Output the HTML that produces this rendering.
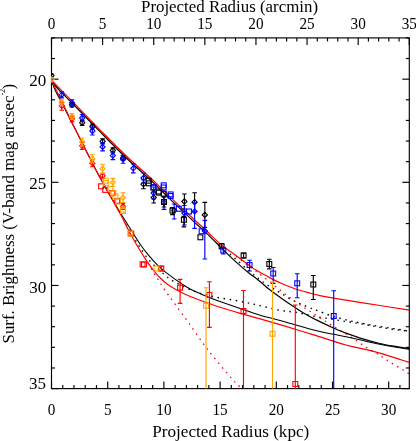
<!DOCTYPE html>
<html><head><meta charset="utf-8"><title>Surface brightness profile</title>
<style>
html,body{margin:0;padding:0;background:#fff;}
svg{display:block;font-family:"Liberation Serif",serif;fill:#000;}
</style></head>
<body>
<svg width="416" height="441" viewBox="0 0 416 441">
<defs><filter id="nf" x="0" y="0" width="416" height="441" filterUnits="userSpaceOnUse"><feOffset dx="0" dy="0"/></filter><clipPath id="clip"><rect x="51.2" y="37.6" width="358.40000000000003" height="351.50000000000006"/></clipPath></defs>
<rect width="416" height="441" fill="#fff"/>
<g stroke="#000" stroke-width="1.15"><line x1="51.50" y1="37.90" x2="51.50" y2="44.90"/><line x1="61.72" y1="37.90" x2="61.72" y2="41.40"/><line x1="71.95" y1="37.90" x2="71.95" y2="41.40"/><line x1="82.17" y1="37.90" x2="82.17" y2="41.40"/><line x1="92.39" y1="37.90" x2="92.39" y2="41.40"/><line x1="102.61" y1="37.90" x2="102.61" y2="44.90"/><line x1="112.84" y1="37.90" x2="112.84" y2="41.40"/><line x1="123.06" y1="37.90" x2="123.06" y2="41.40"/><line x1="133.28" y1="37.90" x2="133.28" y2="41.40"/><line x1="143.51" y1="37.90" x2="143.51" y2="41.40"/><line x1="153.73" y1="37.90" x2="153.73" y2="44.90"/><line x1="163.95" y1="37.90" x2="163.95" y2="41.40"/><line x1="174.17" y1="37.90" x2="174.17" y2="41.40"/><line x1="184.40" y1="37.90" x2="184.40" y2="41.40"/><line x1="194.62" y1="37.90" x2="194.62" y2="41.40"/><line x1="204.84" y1="37.90" x2="204.84" y2="44.90"/><line x1="215.07" y1="37.90" x2="215.07" y2="41.40"/><line x1="225.29" y1="37.90" x2="225.29" y2="41.40"/><line x1="235.51" y1="37.90" x2="235.51" y2="41.40"/><line x1="245.73" y1="37.90" x2="245.73" y2="41.40"/><line x1="255.96" y1="37.90" x2="255.96" y2="44.90"/><line x1="266.18" y1="37.90" x2="266.18" y2="41.40"/><line x1="276.40" y1="37.90" x2="276.40" y2="41.40"/><line x1="286.63" y1="37.90" x2="286.63" y2="41.40"/><line x1="296.85" y1="37.90" x2="296.85" y2="41.40"/><line x1="307.07" y1="37.90" x2="307.07" y2="44.90"/><line x1="317.29" y1="37.90" x2="317.29" y2="41.40"/><line x1="327.52" y1="37.90" x2="327.52" y2="41.40"/><line x1="337.74" y1="37.90" x2="337.74" y2="41.40"/><line x1="347.96" y1="37.90" x2="347.96" y2="41.40"/><line x1="358.19" y1="37.90" x2="358.19" y2="44.90"/><line x1="368.41" y1="37.90" x2="368.41" y2="41.40"/><line x1="378.63" y1="37.90" x2="378.63" y2="41.40"/><line x1="388.85" y1="37.90" x2="388.85" y2="41.40"/><line x1="399.08" y1="37.90" x2="399.08" y2="41.40"/><line x1="409.30" y1="37.90" x2="409.30" y2="44.90"/><line x1="51.50" y1="388.60" x2="51.50" y2="381.60"/><line x1="62.74" y1="388.60" x2="62.74" y2="385.10"/><line x1="73.98" y1="388.60" x2="73.98" y2="385.10"/><line x1="85.22" y1="388.60" x2="85.22" y2="385.10"/><line x1="96.46" y1="388.60" x2="96.46" y2="385.10"/><line x1="107.70" y1="388.60" x2="107.70" y2="381.60"/><line x1="118.94" y1="388.60" x2="118.94" y2="385.10"/><line x1="130.18" y1="388.60" x2="130.18" y2="385.10"/><line x1="141.42" y1="388.60" x2="141.42" y2="385.10"/><line x1="152.66" y1="388.60" x2="152.66" y2="385.10"/><line x1="163.90" y1="388.60" x2="163.90" y2="381.60"/><line x1="175.14" y1="388.60" x2="175.14" y2="385.10"/><line x1="186.38" y1="388.60" x2="186.38" y2="385.10"/><line x1="197.62" y1="388.60" x2="197.62" y2="385.10"/><line x1="208.86" y1="388.60" x2="208.86" y2="385.10"/><line x1="220.10" y1="388.60" x2="220.10" y2="381.60"/><line x1="231.34" y1="388.60" x2="231.34" y2="385.10"/><line x1="242.58" y1="388.60" x2="242.58" y2="385.10"/><line x1="253.82" y1="388.60" x2="253.82" y2="385.10"/><line x1="265.06" y1="388.60" x2="265.06" y2="385.10"/><line x1="276.30" y1="388.60" x2="276.30" y2="381.60"/><line x1="287.54" y1="388.60" x2="287.54" y2="385.10"/><line x1="298.78" y1="388.60" x2="298.78" y2="385.10"/><line x1="310.02" y1="388.60" x2="310.02" y2="385.10"/><line x1="321.26" y1="388.60" x2="321.26" y2="385.10"/><line x1="332.50" y1="388.60" x2="332.50" y2="381.60"/><line x1="343.74" y1="388.60" x2="343.74" y2="385.10"/><line x1="354.98" y1="388.60" x2="354.98" y2="385.10"/><line x1="366.22" y1="388.60" x2="366.22" y2="385.10"/><line x1="377.46" y1="388.60" x2="377.46" y2="385.10"/><line x1="388.70" y1="388.60" x2="388.70" y2="381.60"/><line x1="399.94" y1="388.60" x2="399.94" y2="385.10"/><line x1="51.50" y1="37.90" x2="55.00" y2="37.90"/><line x1="409.30" y1="37.90" x2="405.80" y2="37.90"/><line x1="51.50" y1="58.53" x2="55.00" y2="58.53"/><line x1="409.30" y1="58.53" x2="405.80" y2="58.53"/><line x1="51.50" y1="79.16" x2="58.50" y2="79.16"/><line x1="409.30" y1="79.16" x2="402.30" y2="79.16"/><line x1="51.50" y1="99.79" x2="55.00" y2="99.79"/><line x1="409.30" y1="99.79" x2="405.80" y2="99.79"/><line x1="51.50" y1="120.42" x2="55.00" y2="120.42"/><line x1="409.30" y1="120.42" x2="405.80" y2="120.42"/><line x1="51.50" y1="141.05" x2="55.00" y2="141.05"/><line x1="409.30" y1="141.05" x2="405.80" y2="141.05"/><line x1="51.50" y1="161.68" x2="55.00" y2="161.68"/><line x1="409.30" y1="161.68" x2="405.80" y2="161.68"/><line x1="51.50" y1="182.31" x2="58.50" y2="182.31"/><line x1="409.30" y1="182.31" x2="402.30" y2="182.31"/><line x1="51.50" y1="202.94" x2="55.00" y2="202.94"/><line x1="409.30" y1="202.94" x2="405.80" y2="202.94"/><line x1="51.50" y1="223.57" x2="55.00" y2="223.57"/><line x1="409.30" y1="223.57" x2="405.80" y2="223.57"/><line x1="51.50" y1="244.20" x2="55.00" y2="244.20"/><line x1="409.30" y1="244.20" x2="405.80" y2="244.20"/><line x1="51.50" y1="264.83" x2="55.00" y2="264.83"/><line x1="409.30" y1="264.83" x2="405.80" y2="264.83"/><line x1="51.50" y1="285.46" x2="58.50" y2="285.46"/><line x1="409.30" y1="285.46" x2="402.30" y2="285.46"/><line x1="51.50" y1="306.09" x2="55.00" y2="306.09"/><line x1="409.30" y1="306.09" x2="405.80" y2="306.09"/><line x1="51.50" y1="326.72" x2="55.00" y2="326.72"/><line x1="409.30" y1="326.72" x2="405.80" y2="326.72"/><line x1="51.50" y1="347.35" x2="55.00" y2="347.35"/><line x1="409.30" y1="347.35" x2="405.80" y2="347.35"/><line x1="51.50" y1="367.98" x2="55.00" y2="367.98"/><line x1="409.30" y1="367.98" x2="405.80" y2="367.98"/><line x1="51.50" y1="388.61" x2="58.50" y2="388.61"/><line x1="409.30" y1="388.61" x2="402.30" y2="388.61"/><rect x="51.5" y="37.9" width="357.8" height="350.70000000000005" fill="none"/></g>
<g clip-path="url(#clip)" fill="none">
<path d="M230.00 254.00 C234.28 257.75 249.03 271.07 255.70 276.50 C262.37 281.93 265.95 283.93 270.00 286.60 C274.05 289.27 276.57 290.40 280.00 292.50 C283.43 294.60 287.06 297.25 290.60 299.20 C294.14 301.15 297.70 302.63 301.25 304.20 C304.80 305.77 309.11 307.50 311.90 308.60 C314.69 309.70 314.90 309.65 318.00 310.80 C321.10 311.95 325.62 313.93 330.50 315.50 C335.38 317.07 341.92 318.88 347.30 320.20 C352.68 321.52 357.40 322.35 362.80 323.40 C368.20 324.45 372.68 325.33 379.70 326.50 C386.72 327.67 399.92 329.65 404.90 330.40 C409.88 331.15 408.82 330.90 409.60 331.00" stroke="#000000" stroke-width="1.4" stroke-dasharray="1.5 4.6"/>
<path d="M127.00 224.00 C128.08 226.15 131.28 232.93 133.50 236.90 C135.72 240.87 137.77 244.02 140.30 247.80 C142.83 251.58 145.90 256.23 148.70 259.60 C151.50 262.97 154.30 265.33 157.10 268.00 C159.90 270.67 162.70 273.35 165.50 275.60 C168.30 277.85 169.47 279.02 173.90 281.50 C178.33 283.98 185.60 288.00 192.10 290.50 C198.60 293.00 204.92 294.70 212.90 296.50 C220.88 298.30 232.15 299.78 240.00 301.30 C247.85 302.82 253.33 304.10 260.00 305.60 C266.67 307.10 273.87 309.15 280.00 310.30 C286.13 311.45 291.18 311.52 296.80 312.50 C302.42 313.48 308.08 315.12 313.70 316.20 C319.32 317.28 324.90 318.08 330.50 319.00 C336.10 319.92 341.92 320.85 347.30 321.70 C352.68 322.55 357.40 323.17 362.80 324.10 C368.20 325.03 372.68 326.18 379.70 327.30 C386.72 328.42 399.92 330.12 404.90 330.80 C409.88 331.48 408.82 331.30 409.60 331.40" stroke="#000000" stroke-width="1.4" stroke-dasharray="1.5 4.6"/>
<path d="M236.00 256.50 C239.28 258.92 248.37 265.42 255.70 271.00 C263.03 276.58 273.15 284.72 280.00 290.00 C286.85 295.28 291.18 298.75 296.80 302.70 C302.42 306.65 308.08 310.05 313.70 313.70 C319.32 317.35 324.90 321.10 330.50 324.60 C336.10 328.10 342.62 331.77 347.30 334.70 C351.98 337.63 355.03 339.83 358.60 342.20 C362.17 344.57 365.33 346.80 368.70 348.90 C372.07 351.00 376.27 353.25 378.80 354.80 C381.33 356.35 378.77 355.00 383.90 358.20 C389.03 361.40 405.32 371.37 409.60 374.00" stroke="#ff0000" stroke-width="1.3" stroke-dasharray="1.5 4.6"/>
<path d="M148.00 263.00 C148.95 264.67 151.90 270.07 153.70 273.00 C155.50 275.93 156.95 277.77 158.80 280.60 C160.65 283.43 160.60 284.03 164.80 290.00 C169.00 295.97 176.78 306.38 184.00 316.40 C191.22 326.42 200.08 339.67 208.10 350.10 C216.12 360.53 226.50 372.58 232.10 379.00 C237.70 385.42 240.10 387.00 241.70 388.60" stroke="#ff0000" stroke-width="1.3" stroke-dasharray="1.5 4.6"/>
<path d="M51.50 80.60 C52.08 82.13 53.58 86.63 55.00 89.80 C56.42 92.97 56.67 93.10 60.00 99.60 C63.33 106.10 68.83 116.72 75.00 128.80 C81.17 140.88 91.33 161.27 97.00 172.10 C102.67 182.93 104.88 186.65 109.00 193.80 C113.12 200.95 117.90 208.80 121.70 215.00 C125.50 221.20 128.70 226.08 131.80 231.00 C134.90 235.92 137.48 240.43 140.30 244.50 C143.12 248.57 145.90 252.03 148.70 255.40 C151.50 258.77 154.30 261.90 157.10 264.70 C159.90 267.50 161.30 268.93 165.50 272.20 C169.70 275.47 177.87 281.33 182.30 284.30 C186.73 287.27 187.82 287.90 192.10 290.00 C196.38 292.10 203.35 294.98 208.00 296.90 C212.65 298.82 214.67 299.57 220.00 301.50 C225.33 303.43 233.33 306.22 240.00 308.50 C246.67 310.78 253.33 313.22 260.00 315.20 C266.67 317.18 271.05 317.95 280.00 320.40 C288.95 322.85 302.70 327.17 313.70 329.90 C324.70 332.63 337.82 335.02 346.00 336.80 C354.18 338.58 357.18 339.37 362.80 340.60 C368.42 341.83 374.08 343.10 379.70 344.20 C385.32 345.30 391.52 346.37 396.50 347.20 C401.48 348.03 407.42 348.87 409.60 349.20" stroke="#000000" stroke-width="1.05"/>
<path d="M51.50 80.60 C52.08 81.40 53.58 83.68 55.00 85.40 C56.42 87.12 56.67 87.47 60.00 90.90 C63.33 94.33 68.33 99.17 75.00 105.97 C81.67 112.77 91.67 123.23 100.00 131.69 C108.33 140.15 116.12 148.22 125.00 156.72 C133.88 165.21 145.75 175.59 153.25 182.66 C160.75 189.73 162.88 192.32 170.00 199.14 C177.12 205.96 189.58 217.57 196.00 223.57 C202.42 229.57 203.75 230.56 208.50 235.13 C213.25 239.71 219.75 246.37 224.50 251.00 C229.25 255.63 232.83 259.15 237.00 262.90 C241.17 266.65 246.33 270.94 249.50 273.50 C252.67 276.06 253.58 276.33 256.00 278.25 C258.42 280.17 261.92 283.26 264.00 285.00 C266.08 286.74 265.67 286.53 268.50 288.70 C271.33 290.87 276.83 295.02 281.00 298.00 C285.17 300.98 289.75 304.10 293.50 306.60 C297.25 309.10 300.13 311.00 303.50 313.00 C306.87 315.00 308.63 316.07 313.70 318.60 C318.77 321.13 328.52 325.78 333.90 328.20 C339.28 330.62 341.18 331.32 346.00 333.10 C350.82 334.88 357.18 337.17 362.80 338.90 C368.42 340.63 374.08 342.22 379.70 343.50 C385.32 344.78 391.52 345.75 396.50 346.60 C401.48 347.45 407.42 348.27 409.60 348.60" stroke="#000000" stroke-width="1.2"/>
<path d="M51.50 80.50 C55.42 88.48 67.42 113.15 75.00 128.40 C82.58 143.65 91.33 161.07 97.00 172.00 C102.67 182.93 105.02 186.83 109.00 194.00 C112.98 201.17 117.65 208.97 120.90 215.00 C124.15 221.03 125.83 225.15 128.50 230.20 C131.17 235.25 134.10 240.53 136.90 245.30 C139.70 250.07 142.50 254.58 145.30 258.80 C148.10 263.02 150.90 267.10 153.70 270.60 C156.50 274.10 159.70 277.45 162.10 279.80 C164.50 282.15 165.12 282.72 168.10 284.70 C171.08 286.68 176.00 289.60 180.00 291.70 C184.00 293.80 187.43 295.40 192.10 297.30 C196.77 299.20 203.35 301.43 208.00 303.10 C212.65 304.77 214.67 305.60 220.00 307.30 C225.33 309.00 233.33 311.38 240.00 313.30 C246.67 315.22 253.33 316.92 260.00 318.80 C266.67 320.68 271.05 321.92 280.00 324.60 C288.95 327.28 302.70 331.50 313.70 334.90 C324.70 338.30 337.82 342.68 346.00 345.00 C354.18 347.32 357.18 347.45 362.80 348.80 C368.42 350.15 373.23 351.23 379.70 353.10 C386.17 354.97 396.62 358.42 401.60 360.00 C406.58 361.58 408.27 362.17 409.60 362.60" stroke="#ff0000" stroke-width="1.2"/>
<path d="M51.50 80.20 C55.42 84.20 66.92 95.93 75.00 104.20 C83.08 112.47 91.67 121.38 100.00 129.80 C108.33 138.22 116.12 146.25 125.00 154.70 C133.88 163.15 145.75 173.47 153.25 180.50 C160.75 187.53 162.88 190.12 170.00 196.90 C177.12 203.68 189.58 215.23 196.00 221.20 C202.42 227.17 204.33 228.78 208.50 232.70 C212.67 236.62 216.83 241.19 221.00 244.70 C225.17 248.21 229.00 250.47 233.50 253.75 C238.00 257.03 244.25 261.67 248.00 264.40 C251.75 267.12 252.58 268.00 256.00 270.10 C259.42 272.20 264.33 274.81 268.50 277.00 C272.67 279.19 276.83 281.38 281.00 283.25 C285.17 285.12 289.00 286.69 293.50 288.25 C298.00 289.81 303.58 291.38 308.00 292.60 C312.42 293.83 313.67 294.33 320.00 295.60 C326.33 296.87 336.00 298.55 346.00 300.20 C356.00 301.85 369.40 303.83 380.00 305.50 C390.60 307.17 404.67 309.42 409.60 310.20" stroke="#ff0000" stroke-width="1.2"/>
</g>
<g clip-path="url(#clip)">
<line x1="51.50" y1="74.10" x2="51.50" y2="77.10" stroke="#000000" stroke-width="1.15"/>
<line x1="49.20" y1="74.10" x2="53.80" y2="74.10" stroke="#000000" stroke-width="1.15"/>
<line x1="49.20" y1="77.10" x2="53.80" y2="77.10" stroke="#000000" stroke-width="1.15"/>
<path d="M48.90 75.60 L51.50 73.00 L54.10 75.60 L51.50 78.20 Z" fill="none" stroke="#000000" stroke-width="1.1"/>
<line x1="71.95" y1="102.80" x2="71.95" y2="106.80" stroke="#000000" stroke-width="1.15"/>
<line x1="69.65" y1="102.80" x2="74.25" y2="102.80" stroke="#000000" stroke-width="1.15"/>
<line x1="69.65" y1="106.80" x2="74.25" y2="106.80" stroke="#000000" stroke-width="1.15"/>
<path d="M69.35 104.80 L71.95 102.20 L74.55 104.80 L71.95 107.40 Z" fill="none" stroke="#000000" stroke-width="1.1"/>
<line x1="82.17" y1="120.30" x2="82.17" y2="125.30" stroke="#000000" stroke-width="1.15"/>
<line x1="79.87" y1="120.30" x2="84.47" y2="120.30" stroke="#000000" stroke-width="1.15"/>
<line x1="79.87" y1="125.30" x2="84.47" y2="125.30" stroke="#000000" stroke-width="1.15"/>
<path d="M79.57 122.80 L82.17 120.20 L84.77 122.80 L82.17 125.40 Z" fill="none" stroke="#000000" stroke-width="1.1"/>
<line x1="92.39" y1="124.00" x2="92.39" y2="129.00" stroke="#000000" stroke-width="1.15"/>
<line x1="90.09" y1="124.00" x2="94.69" y2="124.00" stroke="#000000" stroke-width="1.15"/>
<line x1="90.09" y1="129.00" x2="94.69" y2="129.00" stroke="#000000" stroke-width="1.15"/>
<path d="M89.79 126.50 L92.39 123.90 L94.99 126.50 L92.39 129.10 Z" fill="none" stroke="#000000" stroke-width="1.1"/>
<line x1="102.61" y1="138.80" x2="102.61" y2="143.80" stroke="#000000" stroke-width="1.15"/>
<line x1="100.31" y1="138.80" x2="104.91" y2="138.80" stroke="#000000" stroke-width="1.15"/>
<line x1="100.31" y1="143.80" x2="104.91" y2="143.80" stroke="#000000" stroke-width="1.15"/>
<path d="M100.01 141.30 L102.61 138.70 L105.21 141.30 L102.61 143.90 Z" fill="none" stroke="#000000" stroke-width="1.1"/>
<line x1="112.84" y1="147.80" x2="112.84" y2="152.80" stroke="#000000" stroke-width="1.15"/>
<line x1="110.54" y1="147.80" x2="115.14" y2="147.80" stroke="#000000" stroke-width="1.15"/>
<line x1="110.54" y1="152.80" x2="115.14" y2="152.80" stroke="#000000" stroke-width="1.15"/>
<path d="M110.24 150.30 L112.84 147.70 L115.44 150.30 L112.84 152.90 Z" fill="none" stroke="#000000" stroke-width="1.1"/>
<line x1="123.06" y1="155.50" x2="123.06" y2="160.50" stroke="#000000" stroke-width="1.15"/>
<line x1="120.76" y1="155.50" x2="125.36" y2="155.50" stroke="#000000" stroke-width="1.15"/>
<line x1="120.76" y1="160.50" x2="125.36" y2="160.50" stroke="#000000" stroke-width="1.15"/>
<path d="M120.46 158.00 L123.06 155.40 L125.66 158.00 L123.06 160.60 Z" fill="none" stroke="#000000" stroke-width="1.1"/>
<line x1="143.51" y1="179.70" x2="143.51" y2="188.70" stroke="#000000" stroke-width="1.15"/>
<line x1="141.21" y1="179.70" x2="145.81" y2="179.70" stroke="#000000" stroke-width="1.15"/>
<line x1="141.21" y1="188.70" x2="145.81" y2="188.70" stroke="#000000" stroke-width="1.15"/>
<path d="M140.91 184.20 L143.51 181.60 L146.11 184.20 L143.51 186.80 Z" fill="none" stroke="#000000" stroke-width="1.1"/>
<line x1="153.73" y1="192.00" x2="153.73" y2="203.00" stroke="#000000" stroke-width="1.15"/>
<line x1="151.43" y1="192.00" x2="156.03" y2="192.00" stroke="#000000" stroke-width="1.15"/>
<line x1="151.43" y1="203.00" x2="156.03" y2="203.00" stroke="#000000" stroke-width="1.15"/>
<path d="M151.13 197.50 L153.73 194.90 L156.33 197.50 L153.73 200.10 Z" fill="none" stroke="#000000" stroke-width="1.1"/>
<line x1="184.40" y1="194.00" x2="184.40" y2="209.00" stroke="#000000" stroke-width="1.15"/>
<line x1="182.10" y1="194.00" x2="186.70" y2="194.00" stroke="#000000" stroke-width="1.15"/>
<line x1="182.10" y1="209.00" x2="186.70" y2="209.00" stroke="#000000" stroke-width="1.15"/>
<path d="M181.80 201.50 L184.40 198.90 L187.00 201.50 L184.40 204.10 Z" fill="none" stroke="#000000" stroke-width="1.1"/>
<line x1="194.62" y1="192.70" x2="194.62" y2="211.70" stroke="#000000" stroke-width="1.15"/>
<line x1="192.32" y1="192.70" x2="196.92" y2="192.70" stroke="#000000" stroke-width="1.15"/>
<line x1="192.32" y1="211.70" x2="196.92" y2="211.70" stroke="#000000" stroke-width="1.15"/>
<path d="M192.02 202.20 L194.62 199.60 L197.22 202.20 L194.62 204.80 Z" fill="none" stroke="#000000" stroke-width="1.1"/>
<line x1="204.84" y1="202.40" x2="204.84" y2="227.40" stroke="#000000" stroke-width="1.15"/>
<line x1="202.54" y1="202.40" x2="207.14" y2="202.40" stroke="#000000" stroke-width="1.15"/>
<line x1="202.54" y1="227.40" x2="207.14" y2="227.40" stroke="#000000" stroke-width="1.15"/>
<path d="M202.24 214.90 L204.84 212.30 L207.44 214.90 L204.84 217.50 Z" fill="none" stroke="#000000" stroke-width="1.1"/>
<line x1="61.72" y1="91.80" x2="61.72" y2="97.80" stroke="#0000ff" stroke-width="1.15"/>
<line x1="59.42" y1="91.80" x2="64.02" y2="91.80" stroke="#0000ff" stroke-width="1.15"/>
<line x1="59.42" y1="97.80" x2="64.02" y2="97.80" stroke="#0000ff" stroke-width="1.15"/>
<path d="M59.12 94.80 L61.72 92.20 L64.32 94.80 L61.72 97.40 Z" fill="none" stroke="#0000ff" stroke-width="1.1"/>
<line x1="71.95" y1="99.80" x2="71.95" y2="105.80" stroke="#0000ff" stroke-width="1.15"/>
<line x1="69.65" y1="99.80" x2="74.25" y2="99.80" stroke="#0000ff" stroke-width="1.15"/>
<line x1="69.65" y1="105.80" x2="74.25" y2="105.80" stroke="#0000ff" stroke-width="1.15"/>
<path d="M69.35 102.80 L71.95 100.20 L74.55 102.80 L71.95 105.40 Z" fill="none" stroke="#0000ff" stroke-width="1.1"/>
<line x1="82.17" y1="114.50" x2="82.17" y2="121.50" stroke="#0000ff" stroke-width="1.15"/>
<line x1="79.87" y1="114.50" x2="84.47" y2="114.50" stroke="#0000ff" stroke-width="1.15"/>
<line x1="79.87" y1="121.50" x2="84.47" y2="121.50" stroke="#0000ff" stroke-width="1.15"/>
<path d="M79.57 118.00 L82.17 115.40 L84.77 118.00 L82.17 120.60 Z" fill="none" stroke="#0000ff" stroke-width="1.1"/>
<line x1="92.39" y1="127.00" x2="92.39" y2="135.00" stroke="#0000ff" stroke-width="1.15"/>
<line x1="90.09" y1="127.00" x2="94.69" y2="127.00" stroke="#0000ff" stroke-width="1.15"/>
<line x1="90.09" y1="135.00" x2="94.69" y2="135.00" stroke="#0000ff" stroke-width="1.15"/>
<path d="M89.79 131.00 L92.39 128.40 L94.99 131.00 L92.39 133.60 Z" fill="none" stroke="#0000ff" stroke-width="1.1"/>
<line x1="102.61" y1="142.90" x2="102.61" y2="150.90" stroke="#0000ff" stroke-width="1.15"/>
<line x1="100.31" y1="142.90" x2="104.91" y2="142.90" stroke="#0000ff" stroke-width="1.15"/>
<line x1="100.31" y1="150.90" x2="104.91" y2="150.90" stroke="#0000ff" stroke-width="1.15"/>
<path d="M100.01 146.90 L102.61 144.30 L105.21 146.90 L102.61 149.50 Z" fill="none" stroke="#0000ff" stroke-width="1.1"/>
<line x1="112.84" y1="151.60" x2="112.84" y2="159.60" stroke="#0000ff" stroke-width="1.15"/>
<line x1="110.54" y1="151.60" x2="115.14" y2="151.60" stroke="#0000ff" stroke-width="1.15"/>
<line x1="110.54" y1="159.60" x2="115.14" y2="159.60" stroke="#0000ff" stroke-width="1.15"/>
<path d="M110.24 155.60 L112.84 153.00 L115.44 155.60 L112.84 158.20 Z" fill="none" stroke="#0000ff" stroke-width="1.1"/>
<line x1="123.06" y1="155.20" x2="123.06" y2="163.20" stroke="#0000ff" stroke-width="1.15"/>
<line x1="120.76" y1="155.20" x2="125.36" y2="155.20" stroke="#0000ff" stroke-width="1.15"/>
<line x1="120.76" y1="163.20" x2="125.36" y2="163.20" stroke="#0000ff" stroke-width="1.15"/>
<path d="M120.46 159.20 L123.06 156.60 L125.66 159.20 L123.06 161.80 Z" fill="none" stroke="#0000ff" stroke-width="1.1"/>
<line x1="133.28" y1="163.80" x2="133.28" y2="172.80" stroke="#0000ff" stroke-width="1.15"/>
<line x1="130.98" y1="163.80" x2="135.58" y2="163.80" stroke="#0000ff" stroke-width="1.15"/>
<line x1="130.98" y1="172.80" x2="135.58" y2="172.80" stroke="#0000ff" stroke-width="1.15"/>
<path d="M130.68 168.30 L133.28 165.70 L135.88 168.30 L133.28 170.90 Z" fill="none" stroke="#0000ff" stroke-width="1.1"/>
<line x1="143.51" y1="173.00" x2="143.51" y2="183.00" stroke="#0000ff" stroke-width="1.15"/>
<line x1="141.21" y1="173.00" x2="145.81" y2="173.00" stroke="#0000ff" stroke-width="1.15"/>
<line x1="141.21" y1="183.00" x2="145.81" y2="183.00" stroke="#0000ff" stroke-width="1.15"/>
<path d="M140.91 178.00 L143.51 175.40 L146.11 178.00 L143.51 180.60 Z" fill="none" stroke="#0000ff" stroke-width="1.1"/>
<line x1="153.73" y1="187.00" x2="153.73" y2="199.00" stroke="#0000ff" stroke-width="1.15"/>
<line x1="151.43" y1="187.00" x2="156.03" y2="187.00" stroke="#0000ff" stroke-width="1.15"/>
<line x1="151.43" y1="199.00" x2="156.03" y2="199.00" stroke="#0000ff" stroke-width="1.15"/>
<path d="M151.13 193.00 L153.73 190.40 L156.33 193.00 L153.73 195.60 Z" fill="none" stroke="#0000ff" stroke-width="1.1"/>
<line x1="163.95" y1="196.80" x2="163.95" y2="209.30" stroke="#0000ff" stroke-width="1.15"/>
<line x1="161.65" y1="196.80" x2="166.25" y2="196.80" stroke="#0000ff" stroke-width="1.15"/>
<line x1="161.65" y1="209.30" x2="166.25" y2="209.30" stroke="#0000ff" stroke-width="1.15"/>
<path d="M161.35 202.30 L163.95 199.70 L166.55 202.30 L163.95 204.90 Z" fill="none" stroke="#0000ff" stroke-width="1.1"/>
<line x1="174.17" y1="204.00" x2="174.17" y2="219.00" stroke="#0000ff" stroke-width="1.15"/>
<line x1="171.87" y1="204.00" x2="176.47" y2="204.00" stroke="#0000ff" stroke-width="1.15"/>
<line x1="171.87" y1="219.00" x2="176.47" y2="219.00" stroke="#0000ff" stroke-width="1.15"/>
<path d="M171.57 210.50 L174.17 207.90 L176.77 210.50 L174.17 213.10 Z" fill="none" stroke="#0000ff" stroke-width="1.1"/>
<line x1="184.40" y1="205.50" x2="184.40" y2="225.00" stroke="#0000ff" stroke-width="1.15"/>
<line x1="182.10" y1="205.50" x2="186.70" y2="205.50" stroke="#0000ff" stroke-width="1.15"/>
<line x1="182.10" y1="225.00" x2="186.70" y2="225.00" stroke="#0000ff" stroke-width="1.15"/>
<path d="M181.80 213.00 L184.40 210.40 L187.00 213.00 L184.40 215.60 Z" fill="none" stroke="#0000ff" stroke-width="1.1"/>
<line x1="194.62" y1="202.90" x2="194.62" y2="228.40" stroke="#0000ff" stroke-width="1.15"/>
<line x1="192.32" y1="202.90" x2="196.92" y2="202.90" stroke="#0000ff" stroke-width="1.15"/>
<line x1="192.32" y1="228.40" x2="196.92" y2="228.40" stroke="#0000ff" stroke-width="1.15"/>
<path d="M192.02 211.40 L194.62 208.80 L197.22 211.40 L194.62 214.00 Z" fill="none" stroke="#0000ff" stroke-width="1.1"/>
<line x1="204.84" y1="220.40" x2="204.84" y2="259.00" stroke="#0000ff" stroke-width="1.15"/>
<line x1="202.54" y1="220.40" x2="207.14" y2="220.40" stroke="#0000ff" stroke-width="1.15"/>
<line x1="202.54" y1="259.00" x2="207.14" y2="259.00" stroke="#0000ff" stroke-width="1.15"/>
<path d="M202.24 231.00 L204.84 228.40 L207.44 231.00 L204.84 233.60 Z" fill="none" stroke="#0000ff" stroke-width="1.1"/>
<line x1="61.72" y1="102.80" x2="61.72" y2="110.20" stroke="#ff0000" stroke-width="1.15"/>
<line x1="59.42" y1="102.80" x2="64.02" y2="102.80" stroke="#ff0000" stroke-width="1.15"/>
<line x1="59.42" y1="110.20" x2="64.02" y2="110.20" stroke="#ff0000" stroke-width="1.15"/>
<path d="M59.12 105.80 L61.72 103.20 L64.32 105.80 L61.72 108.40 Z" fill="none" stroke="#ff0000" stroke-width="1.1"/>
<line x1="71.95" y1="115.80" x2="71.95" y2="121.80" stroke="#ff0000" stroke-width="1.15"/>
<line x1="69.65" y1="115.80" x2="74.25" y2="115.80" stroke="#ff0000" stroke-width="1.15"/>
<line x1="69.65" y1="121.80" x2="74.25" y2="121.80" stroke="#ff0000" stroke-width="1.15"/>
<path d="M69.35 118.80 L71.95 116.20 L74.55 118.80 L71.95 121.40 Z" fill="none" stroke="#ff0000" stroke-width="1.1"/>
<line x1="82.17" y1="142.30" x2="82.17" y2="149.30" stroke="#ff0000" stroke-width="1.15"/>
<line x1="79.87" y1="142.30" x2="84.47" y2="142.30" stroke="#ff0000" stroke-width="1.15"/>
<line x1="79.87" y1="149.30" x2="84.47" y2="149.30" stroke="#ff0000" stroke-width="1.15"/>
<path d="M79.57 145.80 L82.17 143.20 L84.77 145.80 L82.17 148.40 Z" fill="none" stroke="#ff0000" stroke-width="1.1"/>
<line x1="92.39" y1="159.70" x2="92.39" y2="166.70" stroke="#ff0000" stroke-width="1.15"/>
<line x1="90.09" y1="159.70" x2="94.69" y2="159.70" stroke="#ff0000" stroke-width="1.15"/>
<line x1="90.09" y1="166.70" x2="94.69" y2="166.70" stroke="#ff0000" stroke-width="1.15"/>
<path d="M89.79 163.20 L92.39 160.60 L94.99 163.20 L92.39 165.80 Z" fill="none" stroke="#ff0000" stroke-width="1.1"/>
<line x1="102.61" y1="173.20" x2="102.61" y2="178.20" stroke="#ff0000" stroke-width="1.15"/>
<line x1="100.31" y1="173.20" x2="104.91" y2="173.20" stroke="#ff0000" stroke-width="1.15"/>
<line x1="100.31" y1="178.20" x2="104.91" y2="178.20" stroke="#ff0000" stroke-width="1.15"/>
<path d="M100.01 175.70 L102.61 173.10 L105.21 175.70 L102.61 178.30 Z" fill="none" stroke="#ff0000" stroke-width="1.1"/>
<line x1="123.06" y1="203.50" x2="123.06" y2="209.50" stroke="#ff0000" stroke-width="1.15"/>
<line x1="120.76" y1="203.50" x2="125.36" y2="203.50" stroke="#ff0000" stroke-width="1.15"/>
<line x1="120.76" y1="209.50" x2="125.36" y2="209.50" stroke="#ff0000" stroke-width="1.15"/>
<path d="M120.46 206.50 L123.06 203.90 L125.66 206.50 L123.06 209.10 Z" fill="none" stroke="#ff0000" stroke-width="1.1"/>
<line x1="51.50" y1="77.50" x2="51.50" y2="81.50" stroke="#ffa500" stroke-width="1.15"/>
<line x1="49.20" y1="77.50" x2="53.80" y2="77.50" stroke="#ffa500" stroke-width="1.15"/>
<line x1="49.20" y1="81.50" x2="53.80" y2="81.50" stroke="#ffa500" stroke-width="1.15"/>
<path d="M48.90 79.50 L51.50 76.90 L54.10 79.50 L51.50 82.10 Z" fill="none" stroke="#ffa500" stroke-width="1.1"/>
<line x1="61.72" y1="99.20" x2="61.72" y2="105.20" stroke="#ffa500" stroke-width="1.15"/>
<line x1="59.42" y1="99.20" x2="64.02" y2="99.20" stroke="#ffa500" stroke-width="1.15"/>
<line x1="59.42" y1="105.20" x2="64.02" y2="105.20" stroke="#ffa500" stroke-width="1.15"/>
<path d="M59.12 102.20 L61.72 99.60 L64.32 102.20 L61.72 104.80 Z" fill="none" stroke="#ffa500" stroke-width="1.1"/>
<line x1="71.95" y1="113.50" x2="71.95" y2="119.50" stroke="#ffa500" stroke-width="1.15"/>
<line x1="69.65" y1="113.50" x2="74.25" y2="113.50" stroke="#ffa500" stroke-width="1.15"/>
<line x1="69.65" y1="119.50" x2="74.25" y2="119.50" stroke="#ffa500" stroke-width="1.15"/>
<path d="M69.35 116.50 L71.95 113.90 L74.55 116.50 L71.95 119.10 Z" fill="none" stroke="#ffa500" stroke-width="1.1"/>
<line x1="82.17" y1="138.00" x2="82.17" y2="146.00" stroke="#ffa500" stroke-width="1.15"/>
<line x1="79.87" y1="138.00" x2="84.47" y2="138.00" stroke="#ffa500" stroke-width="1.15"/>
<line x1="79.87" y1="146.00" x2="84.47" y2="146.00" stroke="#ffa500" stroke-width="1.15"/>
<path d="M79.57 142.00 L82.17 139.40 L84.77 142.00 L82.17 144.60 Z" fill="none" stroke="#ffa500" stroke-width="1.1"/>
<line x1="92.39" y1="154.70" x2="92.39" y2="162.70" stroke="#ffa500" stroke-width="1.15"/>
<line x1="90.09" y1="154.70" x2="94.69" y2="154.70" stroke="#ffa500" stroke-width="1.15"/>
<line x1="90.09" y1="162.70" x2="94.69" y2="162.70" stroke="#ffa500" stroke-width="1.15"/>
<path d="M89.79 158.70 L92.39 156.10 L94.99 158.70 L92.39 161.30 Z" fill="none" stroke="#ffa500" stroke-width="1.1"/>
<line x1="102.61" y1="164.20" x2="102.61" y2="173.20" stroke="#ffa500" stroke-width="1.15"/>
<line x1="100.31" y1="164.20" x2="104.91" y2="164.20" stroke="#ffa500" stroke-width="1.15"/>
<line x1="100.31" y1="173.20" x2="104.91" y2="173.20" stroke="#ffa500" stroke-width="1.15"/>
<path d="M100.01 168.70 L102.61 166.10 L105.21 168.70 L102.61 171.30 Z" fill="none" stroke="#ffa500" stroke-width="1.1"/>
<line x1="112.84" y1="178.30" x2="112.84" y2="186.30" stroke="#ffa500" stroke-width="1.15"/>
<line x1="110.54" y1="178.30" x2="115.14" y2="178.30" stroke="#ffa500" stroke-width="1.15"/>
<line x1="110.54" y1="186.30" x2="115.14" y2="186.30" stroke="#ffa500" stroke-width="1.15"/>
<path d="M110.24 182.30 L112.84 179.70 L115.44 182.30 L112.84 184.90 Z" fill="none" stroke="#ffa500" stroke-width="1.1"/>
<line x1="123.06" y1="192.90" x2="123.06" y2="202.50" stroke="#ffa500" stroke-width="1.15"/>
<line x1="120.76" y1="192.90" x2="125.36" y2="192.90" stroke="#ffa500" stroke-width="1.15"/>
<line x1="120.76" y1="202.50" x2="125.36" y2="202.50" stroke="#ffa500" stroke-width="1.15"/>
<path d="M120.46 197.70 L123.06 195.10 L125.66 197.70 L123.06 200.30 Z" fill="none" stroke="#ffa500" stroke-width="1.1"/>
<rect x="146.25" y="178.25" width="4.90" height="4.90" fill="none" stroke="#000000" stroke-width="1.1"/>
<rect x="146.25" y="180.85" width="4.90" height="4.90" fill="none" stroke="#000000" stroke-width="1.1"/>
<rect x="151.05" y="185.15" width="4.90" height="4.90" fill="none" stroke="#000000" stroke-width="1.1"/>
<rect x="156.45" y="189.05" width="4.90" height="4.90" fill="none" stroke="#000000" stroke-width="1.1"/>
<rect x="156.45" y="190.25" width="4.90" height="4.90" fill="none" stroke="#000000" stroke-width="1.1"/>
<rect x="161.25" y="191.25" width="4.90" height="4.90" fill="none" stroke="#000000" stroke-width="1.1"/>
<line x1="164.00" y1="197.00" x2="164.00" y2="207.00" stroke="#000000" stroke-width="1.15"/>
<line x1="161.70" y1="197.00" x2="166.30" y2="197.00" stroke="#000000" stroke-width="1.15"/>
<line x1="161.70" y1="207.00" x2="166.30" y2="207.00" stroke="#000000" stroke-width="1.15"/>
<rect x="161.55" y="199.55" width="4.90" height="4.90" fill="none" stroke="#000000" stroke-width="1.1"/>
<line x1="172.50" y1="207.60" x2="172.50" y2="214.60" stroke="#000000" stroke-width="1.15"/>
<line x1="170.20" y1="207.60" x2="174.80" y2="207.60" stroke="#000000" stroke-width="1.15"/>
<line x1="170.20" y1="214.60" x2="174.80" y2="214.60" stroke="#000000" stroke-width="1.15"/>
<rect x="170.05" y="208.15" width="4.90" height="4.90" fill="none" stroke="#000000" stroke-width="1.1"/>
<line x1="183.90" y1="216.30" x2="183.90" y2="226.80" stroke="#000000" stroke-width="1.15"/>
<line x1="181.60" y1="216.30" x2="186.20" y2="216.30" stroke="#000000" stroke-width="1.15"/>
<line x1="181.60" y1="226.80" x2="186.20" y2="226.80" stroke="#000000" stroke-width="1.15"/>
<rect x="181.45" y="217.35" width="4.90" height="4.90" fill="none" stroke="#000000" stroke-width="1.1"/>
<rect x="197.95" y="234.85" width="4.90" height="4.90" fill="none" stroke="#000000" stroke-width="1.1"/>
<line x1="221.60" y1="243.70" x2="221.60" y2="248.70" stroke="#000000" stroke-width="1.15"/>
<line x1="219.30" y1="243.70" x2="223.90" y2="243.70" stroke="#000000" stroke-width="1.15"/>
<line x1="219.30" y1="248.70" x2="223.90" y2="248.70" stroke="#000000" stroke-width="1.15"/>
<rect x="219.15" y="243.75" width="4.90" height="4.90" fill="none" stroke="#000000" stroke-width="1.1"/>
<line x1="243.60" y1="253.00" x2="243.60" y2="258.00" stroke="#000000" stroke-width="1.15"/>
<line x1="241.30" y1="253.00" x2="245.90" y2="253.00" stroke="#000000" stroke-width="1.15"/>
<line x1="241.30" y1="258.00" x2="245.90" y2="258.00" stroke="#000000" stroke-width="1.15"/>
<rect x="241.15" y="253.05" width="4.90" height="4.90" fill="none" stroke="#000000" stroke-width="1.1"/>
<line x1="269.30" y1="259.20" x2="269.30" y2="268.80" stroke="#000000" stroke-width="1.15"/>
<line x1="267.00" y1="259.20" x2="271.60" y2="259.20" stroke="#000000" stroke-width="1.15"/>
<line x1="267.00" y1="268.80" x2="271.60" y2="268.80" stroke="#000000" stroke-width="1.15"/>
<rect x="266.85" y="261.55" width="4.90" height="4.90" fill="none" stroke="#000000" stroke-width="1.1"/>
<line x1="313.30" y1="275.50" x2="313.30" y2="299.50" stroke="#000000" stroke-width="1.15"/>
<line x1="311.00" y1="275.50" x2="315.60" y2="275.50" stroke="#000000" stroke-width="1.15"/>
<line x1="311.00" y1="299.50" x2="315.60" y2="299.50" stroke="#000000" stroke-width="1.15"/>
<rect x="310.85" y="282.05" width="4.90" height="4.90" fill="none" stroke="#000000" stroke-width="1.1"/>
<rect x="151.05" y="184.65" width="4.90" height="4.90" fill="none" stroke="#0000ff" stroke-width="1.1"/>
<rect x="161.25" y="182.85" width="4.90" height="4.90" fill="none" stroke="#0000ff" stroke-width="1.1"/>
<rect x="161.25" y="185.05" width="4.90" height="4.90" fill="none" stroke="#0000ff" stroke-width="1.1"/>
<rect x="168.15" y="191.95" width="4.90" height="4.90" fill="none" stroke="#0000ff" stroke-width="1.1"/>
<rect x="168.15" y="193.55" width="4.90" height="4.90" fill="none" stroke="#0000ff" stroke-width="1.1"/>
<rect x="176.35" y="206.35" width="4.90" height="4.90" fill="none" stroke="#0000ff" stroke-width="1.1"/>
<rect x="186.55" y="209.05" width="4.90" height="4.90" fill="none" stroke="#0000ff" stroke-width="1.1"/>
<rect x="199.15" y="228.85" width="4.90" height="4.90" fill="none" stroke="#0000ff" stroke-width="1.1"/>
<line x1="223.30" y1="247.50" x2="223.30" y2="254.00" stroke="#0000ff" stroke-width="1.15"/>
<line x1="221.00" y1="247.50" x2="225.60" y2="247.50" stroke="#0000ff" stroke-width="1.15"/>
<line x1="221.00" y1="254.00" x2="225.60" y2="254.00" stroke="#0000ff" stroke-width="1.15"/>
<rect x="220.85" y="248.05" width="4.90" height="4.90" fill="none" stroke="#0000ff" stroke-width="1.1"/>
<line x1="249.60" y1="260.20" x2="249.60" y2="271.00" stroke="#0000ff" stroke-width="1.15"/>
<line x1="247.30" y1="260.20" x2="251.90" y2="260.20" stroke="#0000ff" stroke-width="1.15"/>
<line x1="247.30" y1="271.00" x2="251.90" y2="271.00" stroke="#0000ff" stroke-width="1.15"/>
<rect x="247.15" y="262.55" width="4.90" height="4.90" fill="none" stroke="#0000ff" stroke-width="1.1"/>
<line x1="273.20" y1="267.50" x2="273.20" y2="283.30" stroke="#0000ff" stroke-width="1.15"/>
<line x1="270.90" y1="267.50" x2="275.50" y2="267.50" stroke="#0000ff" stroke-width="1.15"/>
<line x1="270.90" y1="283.30" x2="275.50" y2="283.30" stroke="#0000ff" stroke-width="1.15"/>
<rect x="270.75" y="271.05" width="4.90" height="4.90" fill="none" stroke="#0000ff" stroke-width="1.1"/>
<line x1="297.20" y1="273.70" x2="297.20" y2="297.70" stroke="#0000ff" stroke-width="1.15"/>
<line x1="294.90" y1="273.70" x2="299.50" y2="273.70" stroke="#0000ff" stroke-width="1.15"/>
<line x1="294.90" y1="297.70" x2="299.50" y2="297.70" stroke="#0000ff" stroke-width="1.15"/>
<rect x="294.75" y="280.85" width="4.90" height="4.90" fill="none" stroke="#0000ff" stroke-width="1.1"/>
<line x1="333.70" y1="290.70" x2="333.70" y2="388.60" stroke="#0000ff" stroke-width="1.15"/>
<line x1="331.40" y1="290.70" x2="336.00" y2="290.70" stroke="#0000ff" stroke-width="1.15"/>
<rect x="331.25" y="313.55" width="4.90" height="4.90" fill="none" stroke="#0000ff" stroke-width="1.1"/>
<rect x="98.65" y="183.85" width="4.90" height="4.90" fill="none" stroke="#ff0000" stroke-width="1.1"/>
<rect x="102.75" y="187.45" width="4.90" height="4.90" fill="none" stroke="#ff0000" stroke-width="1.1"/>
<rect x="109.85" y="190.55" width="4.90" height="4.90" fill="none" stroke="#ff0000" stroke-width="1.1"/>
<rect x="114.75" y="198.45" width="4.90" height="4.90" fill="none" stroke="#ff0000" stroke-width="1.1"/>
<rect x="128.85" y="231.15" width="4.90" height="4.90" fill="none" stroke="#ff0000" stroke-width="1.1"/>
<rect x="140.15" y="261.95" width="4.90" height="4.90" fill="none" stroke="#ff0000" stroke-width="1.1"/>
<rect x="141.55" y="261.95" width="4.90" height="4.90" fill="none" stroke="#ff0000" stroke-width="1.1"/>
<line x1="161.30" y1="266.00" x2="161.30" y2="271.00" stroke="#ff0000" stroke-width="1.15"/>
<line x1="159.00" y1="266.00" x2="163.60" y2="266.00" stroke="#ff0000" stroke-width="1.15"/>
<line x1="159.00" y1="271.00" x2="163.60" y2="271.00" stroke="#ff0000" stroke-width="1.15"/>
<rect x="158.85" y="266.05" width="4.90" height="4.90" fill="none" stroke="#ff0000" stroke-width="1.1"/>
<line x1="180.10" y1="279.30" x2="180.10" y2="303.30" stroke="#ff0000" stroke-width="1.15"/>
<line x1="177.80" y1="279.30" x2="182.40" y2="279.30" stroke="#ff0000" stroke-width="1.15"/>
<line x1="177.80" y1="303.30" x2="182.40" y2="303.30" stroke="#ff0000" stroke-width="1.15"/>
<rect x="177.65" y="285.25" width="4.90" height="4.90" fill="none" stroke="#ff0000" stroke-width="1.1"/>
<line x1="209.40" y1="281.70" x2="209.40" y2="327.30" stroke="#ff0000" stroke-width="1.15"/>
<line x1="207.10" y1="281.70" x2="211.70" y2="281.70" stroke="#ff0000" stroke-width="1.15"/>
<line x1="207.10" y1="327.30" x2="211.70" y2="327.30" stroke="#ff0000" stroke-width="1.15"/>
<rect x="206.95" y="292.45" width="4.90" height="4.90" fill="none" stroke="#ff0000" stroke-width="1.1"/>
<line x1="243.50" y1="290.50" x2="243.50" y2="388.60" stroke="#ff0000" stroke-width="1.15"/>
<line x1="241.20" y1="290.50" x2="245.80" y2="290.50" stroke="#ff0000" stroke-width="1.15"/>
<rect x="241.05" y="308.55" width="4.90" height="4.90" fill="none" stroke="#ff0000" stroke-width="1.1"/>
<line x1="295.30" y1="305.00" x2="295.30" y2="388.60" stroke="#ff0000" stroke-width="1.15"/>
<line x1="293.00" y1="305.00" x2="297.60" y2="305.00" stroke="#ff0000" stroke-width="1.15"/>
<rect x="292.85" y="381.55" width="4.90" height="4.90" fill="none" stroke="#ff0000" stroke-width="1.1"/>
<rect x="103.25" y="178.25" width="4.90" height="4.90" fill="none" stroke="#ffa500" stroke-width="1.1"/>
<rect x="103.25" y="180.55" width="4.90" height="4.90" fill="none" stroke="#ffa500" stroke-width="1.1"/>
<rect x="107.85" y="186.35" width="4.90" height="4.90" fill="none" stroke="#ffa500" stroke-width="1.1"/>
<rect x="110.95" y="190.95" width="4.90" height="4.90" fill="none" stroke="#ffa500" stroke-width="1.1"/>
<rect x="112.95" y="194.05" width="4.90" height="4.90" fill="none" stroke="#ffa500" stroke-width="1.1"/>
<rect x="115.55" y="199.15" width="4.90" height="4.90" fill="none" stroke="#ffa500" stroke-width="1.1"/>
<rect x="120.55" y="207.05" width="4.90" height="4.90" fill="none" stroke="#ffa500" stroke-width="1.1"/>
<rect x="120.55" y="208.55" width="4.90" height="4.90" fill="none" stroke="#ffa500" stroke-width="1.1"/>
<rect x="127.85" y="231.15" width="4.90" height="4.90" fill="none" stroke="#ffa500" stroke-width="1.1"/>
<rect x="154.05" y="266.05" width="4.90" height="4.90" fill="none" stroke="#ffa500" stroke-width="1.1"/>
<line x1="206.00" y1="287.70" x2="206.00" y2="388.60" stroke="#ffa500" stroke-width="1.15"/>
<line x1="203.70" y1="287.70" x2="208.30" y2="287.70" stroke="#ffa500" stroke-width="1.15"/>
<rect x="203.55" y="303.25" width="4.90" height="4.90" fill="none" stroke="#ffa500" stroke-width="1.1"/>
<line x1="272.50" y1="281.80" x2="272.50" y2="388.60" stroke="#ffa500" stroke-width="1.15"/>
<line x1="270.20" y1="281.80" x2="274.80" y2="281.80" stroke="#ffa500" stroke-width="1.15"/>
<rect x="270.05" y="331.35" width="4.90" height="4.90" fill="none" stroke="#ffa500" stroke-width="1.1"/>
</g>
<g filter="url(#nf)"><text x="51.50" y="28.80" text-anchor="middle" font-size="16" textLength="7.6" lengthAdjust="spacingAndGlyphs">0</text>
<text x="102.61" y="28.80" text-anchor="middle" font-size="16" textLength="7.6" lengthAdjust="spacingAndGlyphs">5</text>
<text x="153.73" y="28.80" text-anchor="middle" font-size="16" textLength="15.2" lengthAdjust="spacingAndGlyphs">10</text>
<text x="204.84" y="28.80" text-anchor="middle" font-size="16" textLength="15.2" lengthAdjust="spacingAndGlyphs">15</text>
<text x="255.96" y="28.80" text-anchor="middle" font-size="16" textLength="15.2" lengthAdjust="spacingAndGlyphs">20</text>
<text x="307.07" y="28.80" text-anchor="middle" font-size="16" textLength="15.2" lengthAdjust="spacingAndGlyphs">25</text>
<text x="358.19" y="28.80" text-anchor="middle" font-size="16" textLength="15.2" lengthAdjust="spacingAndGlyphs">30</text>
<text x="409.30" y="28.80" text-anchor="middle" font-size="16" textLength="15.2" lengthAdjust="spacingAndGlyphs">35</text>
<text x="51.50" y="415.00" text-anchor="middle" font-size="16" textLength="7.6" lengthAdjust="spacingAndGlyphs">0</text>
<text x="107.70" y="415.00" text-anchor="middle" font-size="16" textLength="7.6" lengthAdjust="spacingAndGlyphs">5</text>
<text x="163.90" y="415.00" text-anchor="middle" font-size="16" textLength="15.2" lengthAdjust="spacingAndGlyphs">10</text>
<text x="220.10" y="415.00" text-anchor="middle" font-size="16" textLength="15.2" lengthAdjust="spacingAndGlyphs">15</text>
<text x="276.30" y="415.00" text-anchor="middle" font-size="16" textLength="15.2" lengthAdjust="spacingAndGlyphs">20</text>
<text x="332.50" y="415.00" text-anchor="middle" font-size="16" textLength="15.2" lengthAdjust="spacingAndGlyphs">25</text>
<text x="388.70" y="415.00" text-anchor="middle" font-size="16" textLength="15.2" lengthAdjust="spacingAndGlyphs">30</text>
<text x="46.30" y="86.26" text-anchor="end" font-size="16" textLength="17" lengthAdjust="spacingAndGlyphs">20</text>
<text x="46.30" y="189.41" text-anchor="end" font-size="16" textLength="17" lengthAdjust="spacingAndGlyphs">25</text>
<text x="46.30" y="292.56" text-anchor="end" font-size="16" textLength="17" lengthAdjust="spacingAndGlyphs">30</text>
<text x="46.00" y="389.31" text-anchor="end" font-size="16" textLength="17" lengthAdjust="spacingAndGlyphs">35</text>
<text x="229.50" y="11.60" text-anchor="middle" font-size="16" textLength="177" lengthAdjust="spacingAndGlyphs">Projected Radius (arcmin)</text>
<text x="230.80" y="437.00" text-anchor="middle" font-size="16" textLength="157" lengthAdjust="spacingAndGlyphs">Projected Radius (kpc)</text>
<g transform="translate(14.2,343.5) rotate(-90) scale(1,1.1)"><text x="0" y="0" font-size="16" textLength="248" lengthAdjust="spacingAndGlyphs">Surf. Brightness (V-band mag arcsec</text><text x="248.2" y="-8.2" font-size="7.7">-2</text><text x="254.3" y="0" font-size="16">)</text></g></g>
</svg>
</body></html>
